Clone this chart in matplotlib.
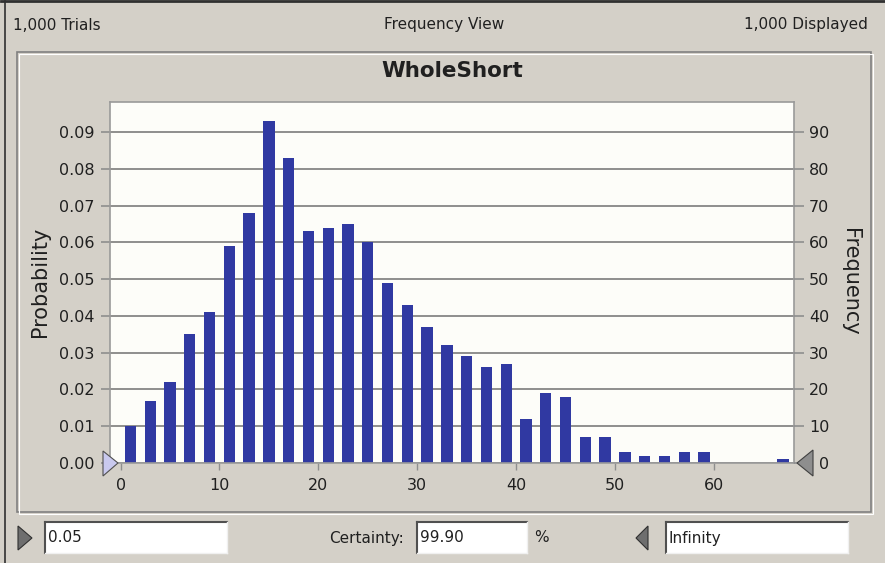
import numpy as np
import matplotlib.pyplot as plt
from matplotlib.patches import Rectangle, Polygon

# histogram of 1,000 trials, bins of width 2
bin_mid = [1, 3, 5, 7, 9, 11, 13, 15, 17, 19, 21, 23, 25, 27, 29, 31, 33, 35,
           37, 39, 41, 43, 45, 47, 49, 51, 53, 55, 57, 59, 67]
freq = [10, 17, 22, 35, 41, 59, 68, 93, 83, 63, 64, 65, 60, 49, 43, 37, 32, 29,
        26, 27, 12, 19, 18, 7, 7, 3, 2, 2, 3, 3, 1]
n_trials = 1000

prob_ticks = [0.0, 0.01, 0.02, 0.03, 0.04, 0.05, 0.06, 0.07, 0.08, 0.09]
prob_labels = ['0.00', '0.01', '0.02', '0.03', '0.04', '0.05', '0.06', '0.07', '0.08', '0.09']
freq_ticks = [0, 10, 20, 30, 40, 50, 60, 70, 80, 90]
x_ticks = [0, 10, 20, 30, 40, 50, 60]

W, H = 885, 563
BG = '#d4d0c8'
BAR = '#3039a2'
GRID = '#8e8e8e'

plt.rcParams['font.family'] = ['DejaVu Sans']
plt.rcParams['text.color'] = '#202020'


def px(x0, y0, x1, y1):
    return [x0 / W, 1 - y1 / H, (x1 - x0) / W, (y1 - y0) / H]


fig = plt.figure(figsize=(W / 100, H / 100), dpi=100)
fig.patch.set_facecolor(BG)

# background layer: frames and labels
bg = fig.add_axes([0, 0, 1, 1], zorder=0)
bg.set_xlim(0, W)
bg.set_ylim(H, 0)
bg.axis('off')

bg.plot([1, W], [1, 1], color='#303030', lw=2)
bg.plot([5, 5], [1, H], color='#303030', lw=1.2)
bg.add_patch(Rectangle((17, 52), 854, 460, fill=False, ec='#808080', lw=1.2))
bg.add_patch(Rectangle((18.5, 53.5), 854, 460, fill=False, ec='white', lw=0.8))

bg.text(13, 25, '1,000 Trials', fontsize=11, ha='left', va='center')
bg.text(444, 25, 'Frequency View', fontsize=11, ha='center', va='center')
bg.text(868, 25, '1,000 Displayed', fontsize=11, ha='right', va='center')
bg.text(452, 71, 'WholeShort', fontsize=15.5, fontweight='bold', ha='center', va='center')
bg.text(40, 282, 'Probability', fontsize=15, rotation=90, ha='center', va='center')
bg.text(850, 282, 'Frequency', fontsize=15, rotation=-90, ha='center', va='center')

# bottom controls
def textbox(x, w, s):
    bg.add_patch(Rectangle((x, 522), w, 31, fc='white', ec='none'))
    bg.plot([x, x + w], [522, 522], color='#505050', lw=1.5)
    bg.plot([x, x], [522, 553], color='#505050', lw=1.5)
    bg.plot([x, x + w], [553, 553], color='#f0f0f0', lw=1)
    bg.plot([x + w, x + w], [522, 553], color='#f0f0f0', lw=1)
    bg.text(x + 3, 538, s, fontsize=11, ha='left', va='center')

textbox(45, 182, '0.05')
textbox(417, 110, '99.90')
textbox(666, 182, 'Infinity')
bg.text(404, 538, 'Certainty:', fontsize=11, ha='right', va='center')
bg.text(541, 538, '%', fontsize=11, ha='center', va='center')
bg.add_patch(Polygon([(18, 526), (32, 538), (18, 550)], fc='#6e6e6e', ec='#303030', lw=0.8))
bg.add_patch(Polygon([(648, 526), (636, 538), (648, 550)], fc='#6e6e6e', ec='#303030', lw=0.8))

# chart
ax = fig.add_axes(px(110, 102, 794, 463), zorder=1)
ax.set_facecolor('#fdfdf9')
prob = np.array(freq) / n_trials
ax.bar(bin_mid, prob, width=1.15, color=BAR, zorder=2)
ax.set_xlim(-1.07, 68.1)
ax.set_ylim(0, 0.0982)
ax.set_axisbelow(True)
ax.set_yticks(prob_ticks)
ax.set_yticklabels(prob_labels)
ax.yaxis.grid(True, color=GRID, lw=1.4)
ax.set_xticks(x_ticks)
ax.tick_params(axis='y', direction='out', length=6.5, width=1.2, color=GRID,
               labelsize=11.5, pad=4.5, labelcolor='#202020')
ax.tick_params(axis='x', direction='out', length=5, width=1, color=GRID,
               labelsize=11.5, pad=6, labelcolor='#202020')
for sp in ax.spines.values():
    sp.set_color('#9a9a9a')
    sp.set_linewidth(1.2)

ax2 = ax.twinx()
ax2.set_ylim(0, 0.0982 * n_trials)
ax2.set_yticks(freq_ticks)
ax2.tick_params(axis='y', direction='out', length=7, width=1.2, color=GRID,
                labelsize=11.5, pad=18.5, labelcolor='#202020')
for lab in ax2.get_yticklabels():
    lab.set_horizontalalignment('right')
for sp in ax2.spines.values():
    sp.set_visible(False)

# foreground layer: range markers
fg = fig.add_axes([0, 0, 1, 1], zorder=3)
fg.set_xlim(0, W)
fg.set_ylim(H, 0)
fg.axis('off')
fg.patch.set_alpha(0)
fg.add_patch(Polygon([(103, 451), (118, 463), (103, 476)], fc='#c9c9ee', ec='#505050', lw=0.8))
fg.add_patch(Polygon([(813, 450), (797, 463), (813, 476)], fc='#8e8e8e', ec='#404040', lw=0.8))

fig.savefig('out.png', dpi=100, facecolor=fig.get_facecolor())
